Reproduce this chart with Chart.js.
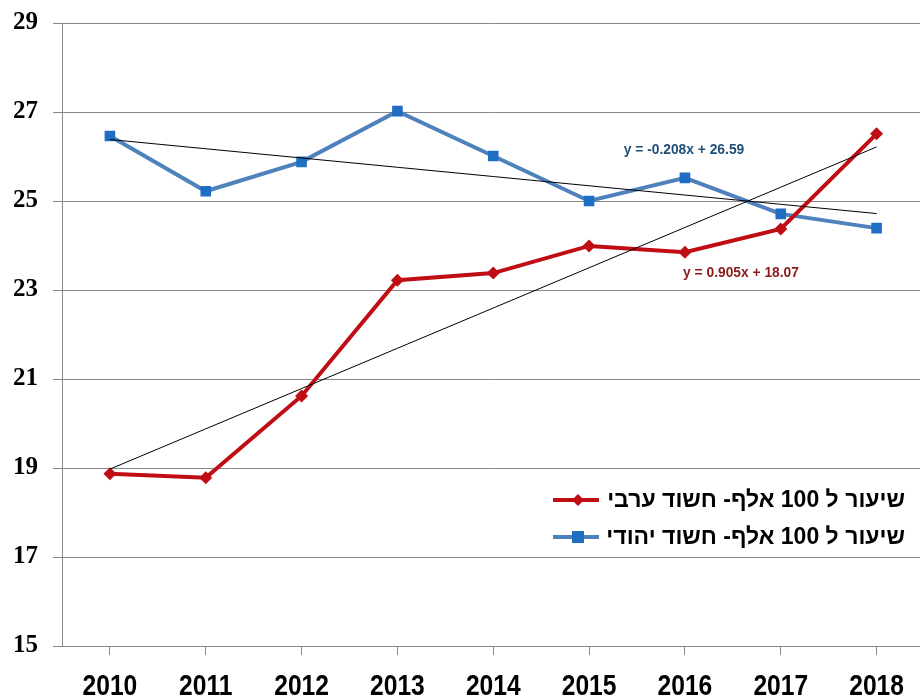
<!DOCTYPE html>
<html>
<head>
<meta charset="utf-8">
<script src="https://cdn.jsdelivr.net/npm/chart.js@4"></script>
<style>
  html, body { margin: 0; padding: 0; background: #fff; overflow: hidden; }
  #wrap { width: 920px; height: 699px; overflow: hidden; position: relative; }
</style>
</head>
<body>
<div id="wrap"><canvas id="rateChart" width="932" height="699"></canvas></div>
<script>
const years = ["2010", "2011", "2012", "2013", "2014", "2015", "2016", "2017", "2018"];
const arabRate = [18.87, 18.78, 20.62, 23.22, 23.38, 23.99, 23.85, 24.37, 26.51];
const jewishRate = [26.46, 25.22, 25.88, 27.02, 26.01, 25.0, 25.52, 24.71, 24.39];
const arabLabel = "שיעור ל 100 אלף- חשוד ערבי";
const jewishLabel = "שיעור ל 100 אלף- חשוד יהודי";
// trendline coefficients as printed on the chart (x = 1..9)
const arabTrend = { slope: 0.905, intercept: 18.07, text: "y = 0.905x + 18.07" };
const jewishTrend = { slope: -0.208, intercept: 26.59, text: "y = -0.208x + 26.59" };

const RED = "#c00d14";
const BLUE = "#4f81bd";
const BLUE_MARK = "#1f6ec3";

const trendValues = (t) => years.map((_, i) => t.slope * (i + 1) + t.intercept);

// x labels (condensed), legend and equation labels drawn on top
const overlay = {
  id: "overlay",
  afterDraw(chart) {
    const ctx = chart.ctx;
    const xs = chart.scales.x;
    ctx.save();

    // condensed year labels
    ctx.font = "bold 30px 'Liberation Sans', Arial";
    ctx.fillStyle = "#000";
    ctx.textAlign = "center";
    ctx.textBaseline = "alphabetic";
    years.forEach((y, i) => {
      const px = xs.getPixelForTick(i);
      ctx.save();
      ctx.translate(px, 695);
      ctx.scale(0.82, 1);
      ctx.fillText(y, 0, 0);
      ctx.restore();
    });

    // equations
    ctx.font = "bold 15px 'Liberation Sans', Arial";
    ctx.textBaseline = "middle";
    ctx.fillStyle = "#1f4e79";
    ctx.save();
    ctx.translate(684, 150);
    ctx.scale(0.92, 1);
    ctx.fillText(jewishTrend.text, 0, 0);
    ctx.restore();
    ctx.fillStyle = "#8b1a1a";
    ctx.save();
    ctx.translate(741, 273);
    ctx.scale(0.92, 1);
    ctx.fillText(arabTrend.text, 0, 0);
    ctx.restore();

    // legend
    const rows = [
      { label: arabLabel, color: RED, y: 500, marker: "diamond" },
      { label: jewishLabel, color: BLUE, mcolor: BLUE_MARK, y: 537, marker: "square" },
    ];
    rows.forEach((r) => {
      ctx.strokeStyle = r.color;
      ctx.lineWidth = 4;
      ctx.beginPath();
      ctx.moveTo(553, r.y);
      ctx.lineTo(599, r.y);
      ctx.stroke();
      ctx.fillStyle = r.mcolor || r.color;
      if (r.marker === "diamond") {
        ctx.beginPath();
        ctx.moveTo(578, r.y - 6);
        ctx.lineTo(584, r.y);
        ctx.lineTo(578, r.y + 6);
        ctx.lineTo(572, r.y);
        ctx.closePath();
        ctx.fill();
      } else {
        ctx.fillRect(572, r.y - 6, 12, 12);
      }
      ctx.fillStyle = "#000";
      ctx.font = "bold 23px 'Liberation Sans', Arial";
      ctx.direction = "rtl";
      ctx.textAlign = "right";
      ctx.fillText(r.label, 905, r.y + 1);
      ctx.direction = "ltr";
      ctx.textAlign = "center";
    });
    ctx.restore();
  },
};

document.addEventListener("DOMContentLoaded", () => {
  const ctx = document.getElementById("rateChart").getContext("2d");
  new Chart(ctx, {
    type: "line",
    data: {
      labels: years,
      datasets: [
        {
          label: "trend-arab",
          data: trendValues(arabTrend),
          borderColor: "#000",
          borderWidth: 1,
          pointRadius: 0,
          tension: 0,
        },
        {
          label: "trend-jewish",
          data: trendValues(jewishTrend),
          borderColor: "#000",
          borderWidth: 1,
          pointRadius: 0,
          tension: 0,
        },
        {
          label: arabLabel,
          data: arabRate,
          borderColor: RED,
          backgroundColor: RED,
          borderWidth: 4,
          pointStyle: "rectRot",
          pointRadius: 6.5,
          pointBorderWidth: 0,
          tension: 0,
        },
        {
          label: jewishLabel,
          data: jewishRate,
          borderColor: BLUE,
          backgroundColor: BLUE_MARK,
          borderWidth: 4,
          pointStyle: "rect",
          pointRadius: 7.5,
          pointBorderWidth: 0,
          tension: 0,
        },
      ],
    },
    options: {
      responsive: false,
      animation: false,
      layout: { padding: { top: 0, left: 0, right: 0, bottom: 0 } },
      plugins: { legend: { display: false }, tooltip: { enabled: false } },
      scales: {
        x: {
          offset: true,
          grid: { drawOnChartArea: false, drawTicks: true, tickLength: 9, color: "#888" },
          border: { color: "#888" },
          ticks: {
            color: "rgba(0,0,0,0)",
            padding: 9,
            font: { family: "'Liberation Sans', Arial", weight: "bold", size: 14 },
          },
          afterFit(scale) { scale.height = 53; },
        },
        y: {
          min: 15,
          max: 29,
          grid: { color: "#888", tickLength: 9 },
          border: { color: "#888" },
          ticks: {
            stepSize: 2,
            color: "#000",
            padding: 15,
            font: { family: "'Liberation Serif'", weight: "bold", size: 25, lineHeight: 0.64 },
          },
          afterFit(scale) { scale.width = 62; },
        },
      },
    },
    plugins: [overlay],
  });
});
</script>
</body>
</html>
